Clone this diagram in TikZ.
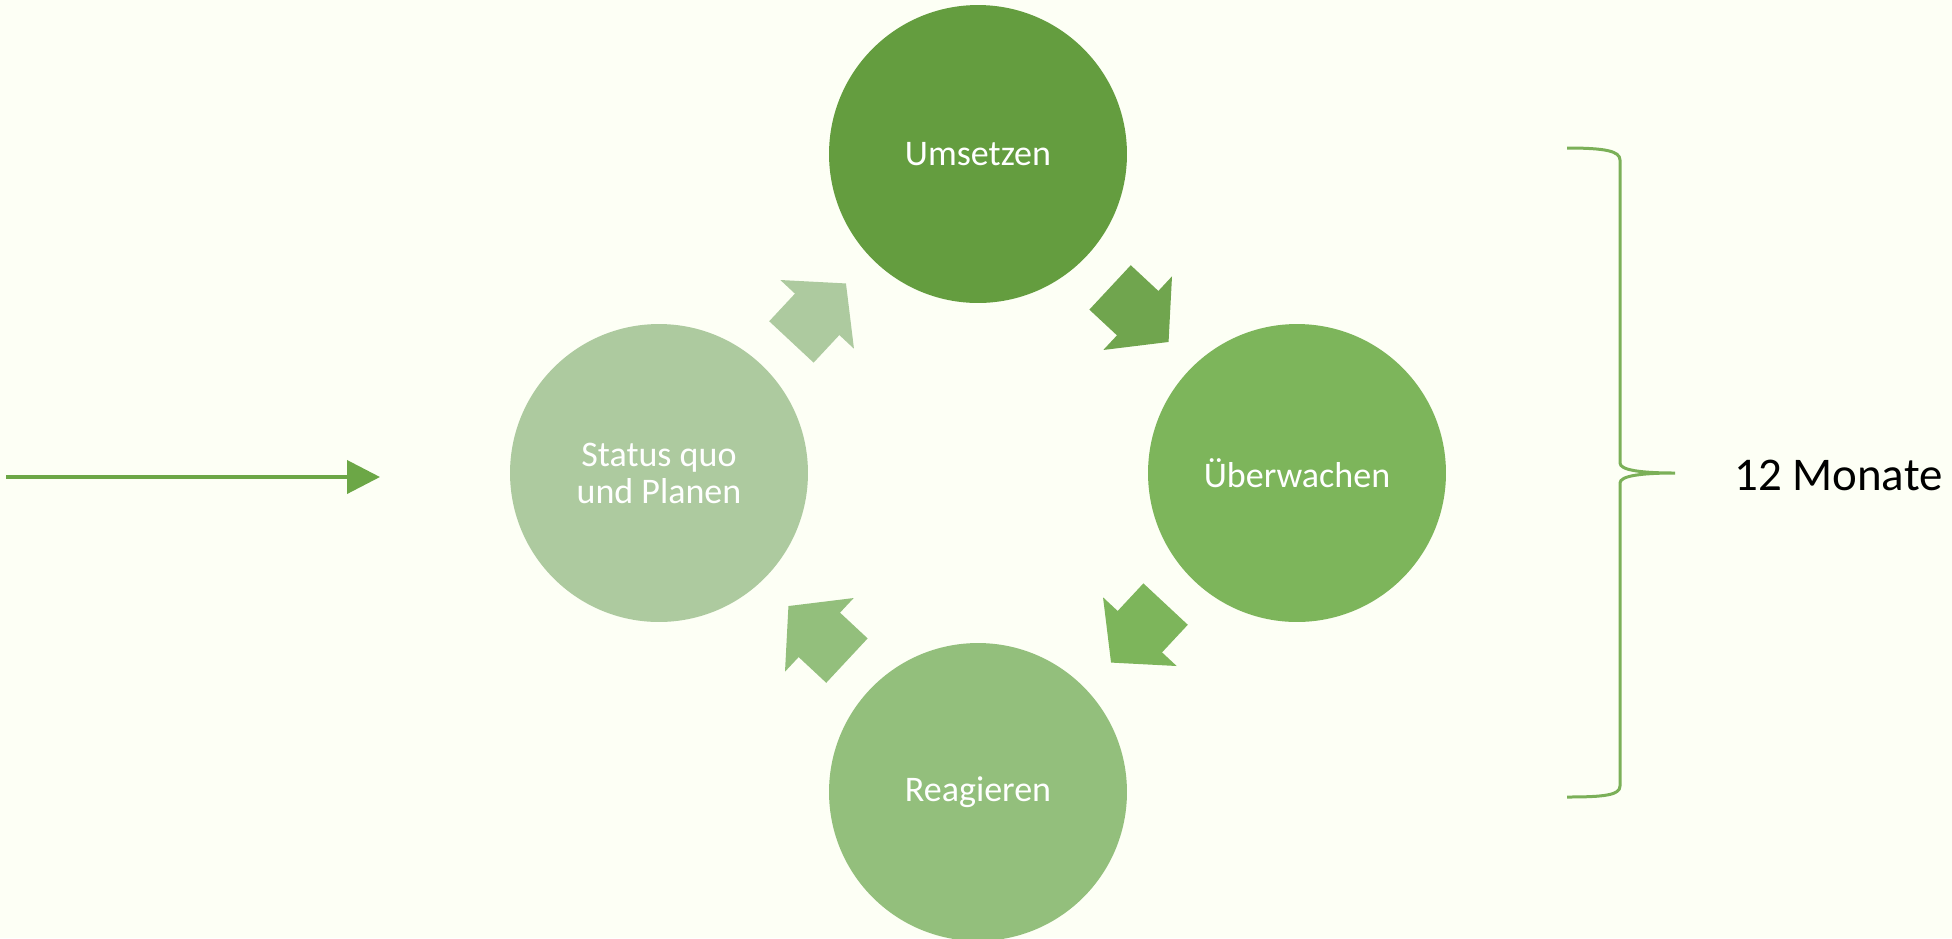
\documentclass[tikz,border=0pt]{standalone}
\usepackage{fontspec}
\setmainfont{Carlito}
\usetikzlibrary{shapes.arrows,arrows.meta}

\definecolor{bg}{HTML}{FDFFF5}
\definecolor{c1}{HTML}{649D3F}
\definecolor{c2}{HTML}{7DB55B}
\definecolor{c3}{HTML}{93BF7C}
\definecolor{c4}{HTML}{ADCA9F}
\definecolor{linegreen}{HTML}{6CA746}

\begin{document}
\begin{tikzpicture}[x=0.02cm, y=-0.02cm,
		phase/.style={circle, fill=#1, text=white, minimum size=5.96cm, inner sep=0pt, align=center,
			font=\fontsize{20.5}{21}\selectfont},
		turn/.style={single arrow, fill=#1, inner xsep=0pt, inner ysep=0.6cm, minimum height=1.6cm,
			single arrow head extend=0.4cm, single arrow tip angle=100}]
	
	\fill[bg] (0,0) rectangle (1952,938);
	\useasboundingbox (0,0) rectangle (1952,938);
	
	% the four phases
	\node[phase=c1] (ums) at (978,154) {Umsetzen};
	\node[phase=c2] (ueb) at (1297,473) {Überwachen};
	\node[phase=c3] (rea) at (978,792) {Reagieren};
	\node[phase=c4] (sqp) at (659,473) {Status quo\\und Planen};
	
	% arrows between them
	\node[turn=c1!92!white, rotate=-43] (a1) at (1130,306) {};
	\node[turn=c2, rotate=-133] (a2) at (1147,624) {};
	\node[turn=c3, rotate=137] (a3) at (827,642) {};
	\node[turn=c4, rotate=47] (a4) at (810,322) {};
	
	% start
	\coordinate (s0) at (6,477);
	\coordinate (s1) at (380,477);
	\draw[linegreen, line width=0.08cm, -{Triangle[length=0.66cm,width=0.66cm]}] (s0) -- (s1);
	
	% brace and duration
	\draw[linegreen!90!white, line width=0.06cm]
		(1567,148) .. controls (1605,148) and (1620,151) .. (1620,160)
		-- (1620,463) .. controls (1620,470) and (1640,473) .. (1675,473)
		.. controls (1640,473) and (1620,476) .. (1620,483)
		-- (1620,786) .. controls (1620,795) and (1605,797) .. (1567,797);
	\node[anchor=west, inner sep=0pt, font=\fontsize{26.7}{30}\selectfont] (dur) at (1734,475) {12 Monate};
\end{tikzpicture}
\end{document}
